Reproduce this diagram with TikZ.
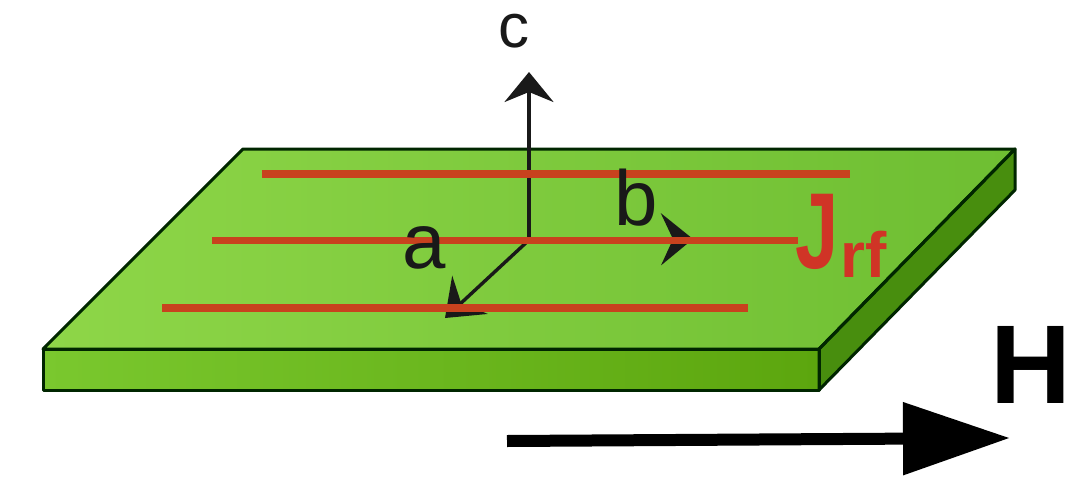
\documentclass[tikz,border=0pt]{standalone}
\usepackage{fontspec}
\setmainfont{Liberation Sans}
\usetikzlibrary{arrows.meta}
\begin{document}
\begin{tikzpicture}[x=1pt,y=-1pt,
  edge/.style={draw=black!85!green,line width=3pt,line join=round},
  rfline/.style={draw=rfred,line width=7.5pt},
  axis/.style={draw=black!90,line width=3.4pt},
  lab/.style={font=\fontsize{78}{78}\selectfont,inner sep=0pt,text=black!90,anchor=base},
  redlab/.style={font=\bfseries\fontsize{#1}{#1}\selectfont,text=jred,inner sep=0pt,anchor=base}]
\definecolor{rfred}{RGB}{200,66,30}
\definecolor{jred}{RGB}{208,52,38}
\definecolor{gl}{RGB}{142,214,72}
\definecolor{gm}{RGB}{110,190,50}
\definecolor{gd}{RGB}{72,142,14}
\definecolor{gf}{RGB}{122,200,46}
\definecolor{gfd}{RGB}{92,166,14}
\path[use as bounding box] (0,0) rectangle (1076,482);
\fill[white] (0,0) rectangle (1076,482);
\shade[left color=gl,right color=gm] (43,349) -- (243,149) -- (1015,149) -- (819,349) -- cycle;
\shade[left color=gf,right color=gfd] (43,349) rectangle (819,390);
\fill[gd] (819,349) -- (1015,149) -- (1015,190) -- (819,390) -- cycle;
\draw[edge] (43,349) -- (243,149) -- (1015,149) -- (819,349) -- cycle;
\draw[edge] (43,349) rectangle (819,390);
\draw[edge] (819,349) -- (1015,149) -- (1015,190) -- (819,390) -- cycle;
\coordinate (o) at (529,240);
\coordinate (ct) at (529,72);
\coordinate (bt) at (693,239);
\coordinate (at) at (445,318);
\draw[axis,-{Stealth[length=30pt,width=49pt,inset=10pt]}] (o) -- (ct);
\draw[axis,-{Stealth[length=32pt,width=52pt,inset=12pt]}] (o) -- (bt);
\draw[axis,-{Stealth[length=34pt,width=52pt,inset=12pt]}] (o) -- (at);
\coordinate (r1a) at (262,174); \coordinate (r1b) at (850,174);
\coordinate (r2a) at (212,240.5); \coordinate (r2b) at (798,240.5);
\coordinate (r3a) at (162,308); \coordinate (r3b) at (748,308);
\draw[rfline] (r1a) -- (r1b);
\draw[rfline] (r2a) -- (r2b);
\draw[rfline] (r3a) -- (r3b);
\node[lab,font=\fontsize{62}{62}\selectfont] (c) at (514,47) {c};
\node[lab] (a) at (424,268) {a};
\node[lab] (b) at (636,225) {b};
\node[redlab=108,xscale=.72] (j) at (817,268) {J};
\node[redlab=64] (rf) at (864,277) {rf};
\node[font=\bfseries\fontsize{112}{112}\selectfont,inner sep=0pt,text=black,anchor=base] (H) at (1031,403) {H};
\coordinate (hs) at (507,441); \coordinate (he) at (1010,438);
\draw[line width=12pt,-{Triangle[length=107pt,width=70pt]}] (hs) -- (he);
\end{tikzpicture}
\end{document}
